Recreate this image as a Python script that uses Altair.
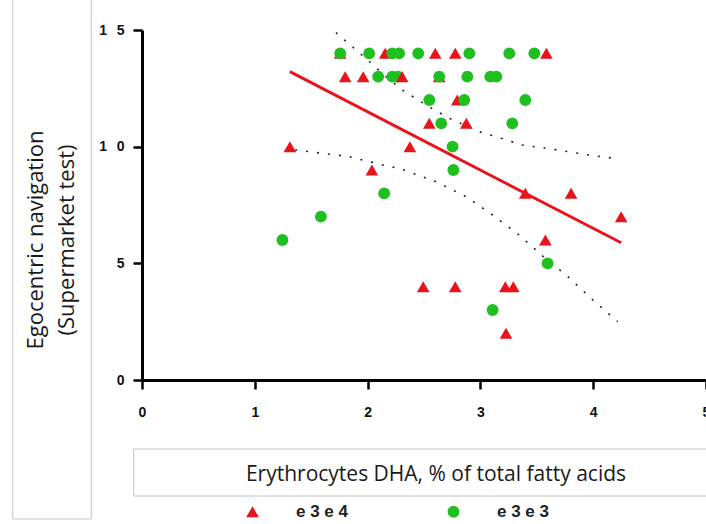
import altair as alt
import pandas as pd

# e3e4 (red triangles)
red_x = [1.757, 2.156, 2.600, 2.777, 3.585,
         1.801, 1.961, 2.635,
         2.795, 2.547, 2.875,
         1.311, 2.375, 2.038,
         3.398, 3.804, 4.248, 3.576,
         2.493, 2.777, 3.221, 3.292, 3.227]
red_y = [14, 14, 14, 14, 14,
         13, 13, 13,
         12, 11, 11,
         10, 10, 9,
         8, 8, 7, 6,
         4, 4, 4, 4, 2]

# e3e3 (green circles)
green_x = [1.757, 2.014, 2.218, 2.279, 2.449, 2.902, 3.256, 3.478,
           2.094, 2.218, 2.270, 2.635, 2.884, 3.088, 3.141,
           2.547, 2.857, 3.398,
           2.653, 3.283,
           2.753, 2.760, 2.147, 1.586, 1.245, 3.596, 3.108]
green_y = [14, 14, 14, 14, 14, 14, 14, 14,
           13, 13, 13, 13, 13, 13, 13,
           12, 12, 12,
           11, 11,
           10, 9, 8, 7, 6, 5, 3]

# red triangle drawn after the green points where it sits on top
late_red_x = [2.307]
late_red_y = [13]

# 95% confidence band
upper_x = [1.719, 1.863, 2.014, 2.162, 2.307, 2.547, 2.724, 2.990, 3.183, 3.372, 3.582, 3.771, 3.966, 4.170]
upper_y = [14.89, 14.29, 13.65, 13.00, 12.43, 11.70, 11.22, 10.64, 10.36, 10.07, 9.93, 9.79, 9.64, 9.51]
lower_x = [1.358, 1.837, 2.130, 2.307, 2.606, 2.872, 3.108, 3.345, 3.552, 3.760, 3.996, 4.217]
lower_y = [9.86, 9.57, 9.22, 9.03, 8.50, 7.86, 7.07, 6.21, 5.31, 4.50, 3.43, 2.50]

groups = ["e 3 e 4", "e 3 e 3"]
RED = "#e8141b"
GREEN = "#1fbf1f"

rows = []
for x, y in zip(red_x, red_y):
    rows.append({"x": x, "y": y, "g": groups[0]})
for x, y in zip(green_x, green_y):
    rows.append({"x": x, "y": y, "g": groups[1]})
for x, y in zip(late_red_x, late_red_y):
    rows.append({"x": x, "y": y, "g": groups[0]})
pts = pd.DataFrame(rows)
pts["i"] = range(len(pts))

red_df = pd.DataFrame({"x": red_x + late_red_x, "y": red_y + late_red_y})

band_rows = [{"x": x, "y": y, "b": "upper"} for x, y in zip(upper_x, upper_y)] + \
            [{"x": x, "y": y, "b": "lower"} for x, y in zip(lower_x, lower_y)]
bands = pd.DataFrame(band_rows)

xs = alt.Scale(domain=[0, 5], nice=False, zero=False)
ys = alt.Scale(domain=[0, 15], nice=False, zero=False)

x_axis = alt.Axis(values=[0, 1, 2, 3, 4, 5], title=None, grid=False,
                  domainColor="#000", domainWidth=3, tickColor="#000", tickWidth=2.5,
                  tickSize=9, labelFont="Liberation Sans", labelFontWeight="bold",
                  labelFontSize=14, labelColor="#111", labelPadding=16, labelFlush=False,
                  labelOverlap=False)
y_axis = alt.Axis(values=[0, 5, 10, 15], title=None, grid=False,
                  domainColor="#000", domainWidth=3, tickColor="#000", tickWidth=2.5,
                  tickSize=9, labelFont="Liberation Sans", labelFontWeight="bold",
                  labelFontSize=14, labelColor="#111", labelPadding=9,
                  labelExpr="datum.value == 15 ? '1\u2002\u20095' : datum.value == 10 ? '1\u2002\u20090' : datum.label")

X = alt.X("x:Q", scale=xs, axis=x_axis)
Y = alt.Y("y:Q", scale=ys, axis=y_axis)

one = pd.DataFrame({"a": [0]})

ybox = alt.Chart(one).mark_rect(fill="white", stroke="#c4c4c4", strokeWidth=1).encode(
    x=alt.value(-129.3), x2=alt.value(-50.7), y=alt.value(-40), y2=alt.value(489))
xbox = alt.Chart(one).mark_rect(fill="white", stroke="#c4c4c4", strokeWidth=1).encode(
    x=alt.value(-8.3), x2=alt.value(600), y=alt.value(419), y2=alt.value(466))

ytitle = alt.Chart(one).mark_text(
    font="Open Sans", fontSize=22, color="#1a1a1a", angle=270, align="center",
    baseline="alphabetic", lineHeight=31).encode(
    x=alt.value(-99), y=alt.value(210),
    text=alt.value(["Egocentric navigation", "(Supermarket test)"]))
xtitle = alt.Chart(one).mark_text(
    font="Open Sans", fontSize=21, color="#1a1a1a", align="center", baseline="alphabetic").encode(
    x=alt.value(294), y=alt.value(451),
    text=alt.value("Erythrocytes DHA, % of total fatty acids"))

band_lines = alt.Chart(bands).mark_line(
    color="#222", strokeWidth=1.6, strokeDash=[2, 9], strokeCap="butt").encode(
    x=X, y=Y, detail="b:N")

reg = alt.Chart(red_df).transform_regression("x", "y").mark_line(
    color=RED, strokeWidth=3).encode(x=X, y=Y)

legend = alt.Legend(title=None, orient="none", direction="horizontal",
                    legendX=102, legendY=473, padding=0,
                    labelFont="Liberation Sans", labelFontWeight="bold", labelFontSize=17,
                    labelColor="#222", labelOffset=35, columnPadding=97,
                    symbolSize=150, symbolStrokeWidth=0, symbolOpacity=1)

points = alt.Chart(pts).mark_point(filled=True, opacity=1, strokeWidth=0).encode(
    x=X, y=Y,
    shape=alt.Shape("g:N", scale=alt.Scale(domain=groups, range=["triangle-up", "circle"]), legend=legend),
    color=alt.Color("g:N", scale=alt.Scale(domain=groups, range=[RED, GREEN]), legend=legend),
    size=alt.Size("g:N", scale=alt.Scale(domain=groups, range=[160, 140]), legend=None),
    order=alt.Order("i:Q"))

chart = alt.layer(ybox, xbox, ytitle, xtitle, band_lines, reg, points).properties(
    width=564, height=350,
    autosize=alt.AutoSizeParams(type="none"),
    padding={"left": 142, "top": 30, "right": 0, "bottom": 144},
    background="white",
).configure_view(stroke=None)

chart.save("out.html", embed_options={"renderer": "svg", "actions": False})
